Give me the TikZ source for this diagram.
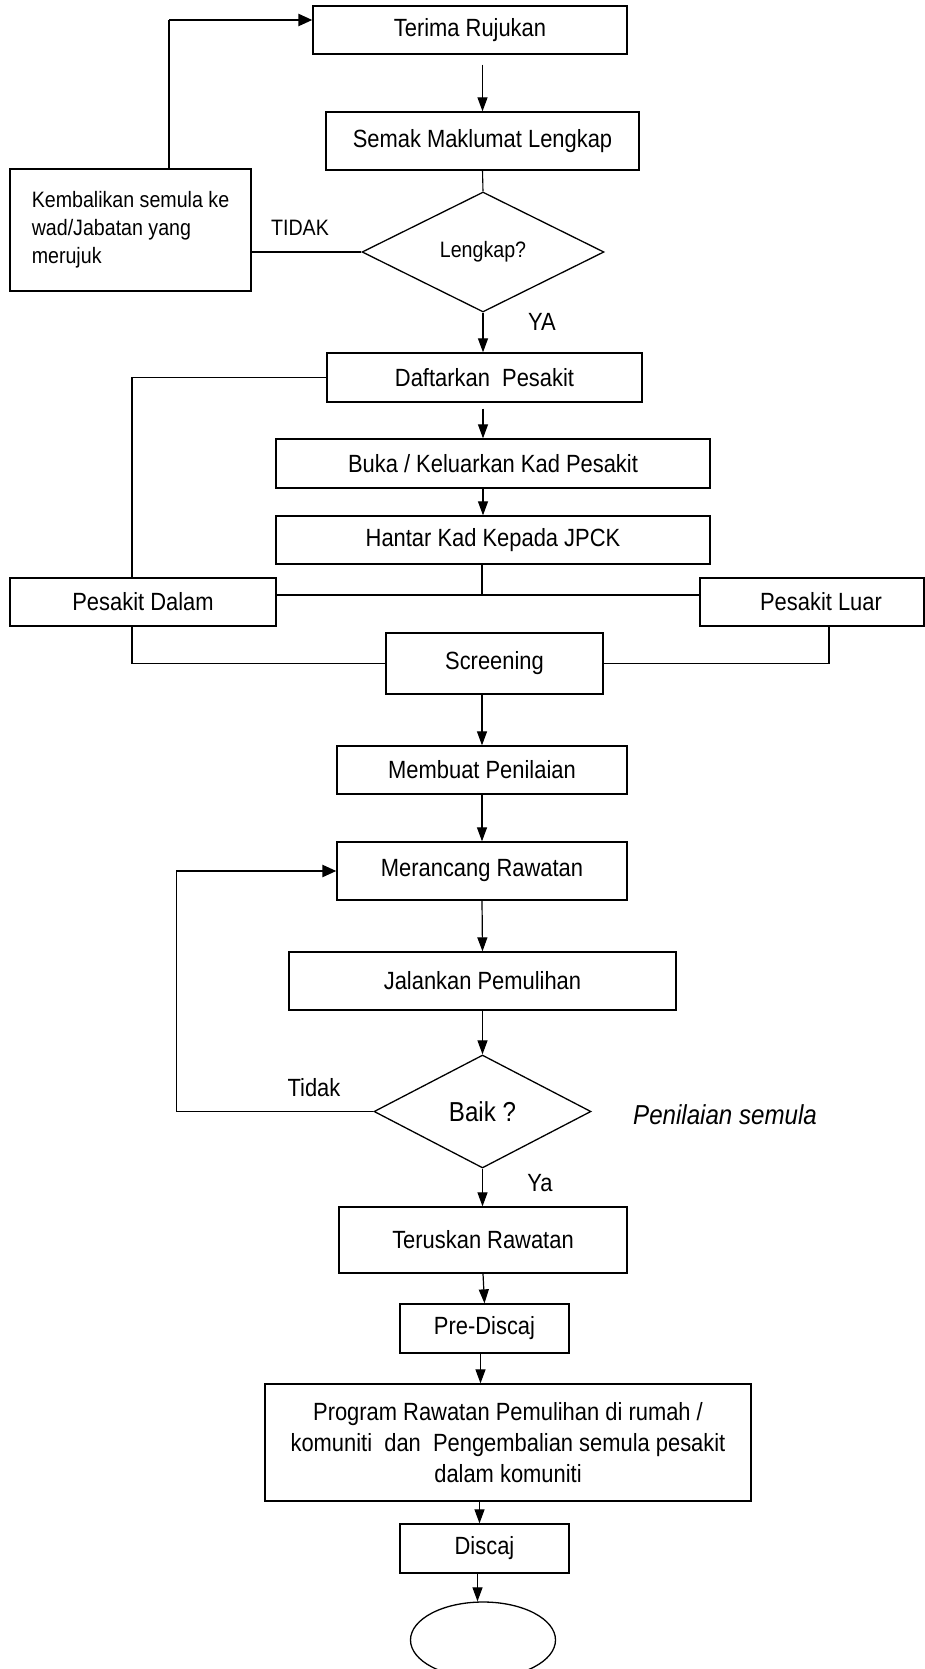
\documentclass[tikz,border=0pt]{standalone}
\usepackage{fontspec}
\setmainfont[FakeStretch=0.88]{Liberation Sans}
\usetikzlibrary{arrows.meta,shapes.geometric}
\begin{document}
\begin{tikzpicture}[x=1pt,y=-1pt,
  box/.style={draw, line width=1.3pt, rectangle, inner sep=0pt, align=center,
    font=\fontsize{24.9}{31}\selectfont},
  dia/.style={draw, line width=1.3pt, diamond, inner sep=0pt, aspect=2},
  line/.style={line width=1.1pt},
  arr/.style={line width=1.2pt, -{Triangle[length=14pt,width=10pt]}},
  fb/.style={line width=2.4pt, -{Triangle[length=14pt,width=12pt]}},
  lbl/.style={inner sep=0pt, font=\fontsize{24.9}{30}\selectfont},
  slbl/.style={inner sep=0pt, font=\fontsize{22.3}{28}\selectfont}]
\useasboundingbox (0,0) rectangle (925,1669);
\clip (0,0) rectangle (925,1669);

\node[box, minimum width=314, minimum height=48] (terima) at (470,30) {Terima Rujukan};
\node[box, minimum width=313, minimum height=58] (semak) at (482.5,141) {Semak Maklumat Lengkap};
\node[dia, minimum width=242, minimum height=120, font=\fontsize{22.3}{28}\selectfont] (lengkap) at (483,252) {Lengkap?};
\node[box, minimum width=241, minimum height=122, align=left,
  font=\fontsize{22.3}{28}\selectfont] (kembali) at (130.5,230) {Kembalikan semula ke\\wad/Jabatan yang\\merujuk\hspace*{105pt}};
\node[box, minimum width=315, minimum height=49] (daftar) at (484.5,377.5) {Daftarkan\ \ Pesakit};
\node[box, minimum width=434, minimum height=49] (buka) at (493,463.5) {Buka / Keluarkan Kad Pesakit};
\node[box, minimum width=434, minimum height=48] (hantar) at (493,540) {Hantar Kad Kepada JPCK};
\node[box, minimum width=266, minimum height=48] (dalam) at (143,602) {Pesakit Dalam};
\node[box, minimum width=224, minimum height=48] (luar) at (812,602) {\hspace*{18pt}Pesakit Luar};
\node[box, minimum width=217, minimum height=61] (screening) at (494.5,663.5) {Screening};
\node[box, minimum width=290, minimum height=48] (membuat) at (482,770) {Membuat Penilaian};
\node[box, minimum width=290, minimum height=58] (merancang) at (482,871) {Merancang Rawatan};
\node[box, minimum width=387, minimum height=58] (jalankan) at (482.5,981) {Jalankan Pemulihan};
\node[dia, minimum width=217, minimum height=113, font=\fontsize{27.4}{32}\selectfont] (baik) at (482.5,1111.5) {Baik ?};
\node[box, minimum width=288, minimum height=66] (teruskan) at (483,1240) {Teruskan Rawatan};
\node[box, minimum width=169, minimum height=49] (prediscaj) at (484.5,1328.5) {Pre-Discaj};
\node[box, minimum width=486, minimum height=117] (program) at (508,1442.5)
  {Program Rawatan Pemulihan di rumah /\\komuniti\ \ dan\ \ Pengembalian semula pesakit\\dalam komuniti};
\node[box, minimum width=169, minimum height=49] (discaj) at (484.5,1548.5) {Discaj};
\node[draw, line width=1.3pt, ellipse, minimum width=145, minimum height=76, inner sep=0pt] (end) at (483,1640) {};

\node[slbl] (tidak1) at (300,228) {TIDAK};
\node[lbl] (ya1) at (542,322) {YA};
\node[lbl] (tidak2) at (314,1088) {Tidak};
\node[lbl, font=\fontsize{27.4}{32}\selectfont\itshape] (semula) at (725,1115) {Penilaian semula};
\node[lbl] (ya2) at (540,1183) {Ya};

\coordinate (j) at (482,595);

% connectors
\draw[arr] ([yshift=-10pt]semak.north |- terima.south) -- (semak.north);
\draw[line] (semak.south) -- (lengkap.north);
\draw[arr] (lengkap.south) -- (lengkap.south |- daftar.north);
\draw[line] (lengkap.west) -- (lengkap.west -| kembali.east);
\draw[line] ([xshift=38.5pt]kembali.north) -- ([xshift=38.5pt,yshift=10pt]kembali.north |- terima.west);
\draw[fb] ([xshift=38.5pt,yshift=10pt]kembali.north |- terima.west) -- ([yshift=10pt]terima.west);

\draw[line] (daftar.west) -| ([xshift=-11pt]dalam.north);
\draw[arr] ([yshift=-6pt]lengkap.south |- daftar.south) -- (lengkap.south |- buka.north);
\draw[arr] (lengkap.south |- buka.south) -- (lengkap.south |- hantar.north);
\draw[line] (hantar.south -| j) -- (j);
\draw[line] (dalam.east |- j) -- (luar.west |- j);
\draw[line] ([xshift=-11pt]dalam.south) |- (screening.west);
\draw[line] ([xshift=17pt]luar.south) |- (screening.east);

\draw[arr] (membuat.north |- screening.south) -- (membuat.north);
\draw[arr] (membuat.south) -- (merancang.north);
\draw[arr] (merancang.south) -- (jalankan.north);
\draw[arr] (jalankan.south) -- (baik.north);
\draw[line] (baik.west) -| ([xshift=-160pt]merancang.west);
\draw[fb] ([xshift=-160pt]merancang.west) -- (merancang.west);
\draw[arr] (baik.south) -- (baik.south |- teruskan.north);

\draw[arr] (teruskan.south) -- (prediscaj.north);
\draw[arr] ([xshift=-4pt]prediscaj.south) -- ([xshift=-4pt]prediscaj.south |- program.north);
\draw[arr] ([xshift=-5pt]discaj.north |- program.south) -- ([xshift=-5pt]discaj.north);
\draw[arr] ([xshift=-7pt]discaj.south) -- ([xshift=-7pt]discaj.south |- end.north);
\end{tikzpicture}
\end{document}
